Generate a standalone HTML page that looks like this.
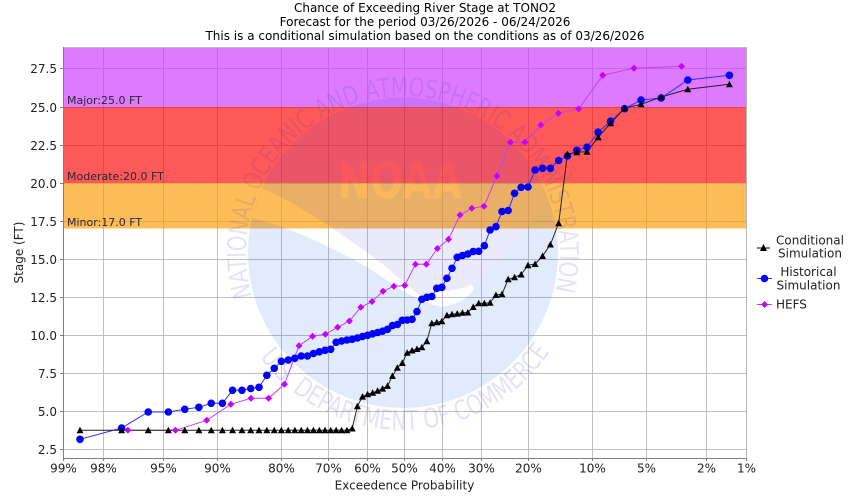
<!DOCTYPE html>
<html><head><meta charset="utf-8">
<style>
html,body{margin:0;padding:0;background:#fff;}
svg{display:block;}
text{font-family:"DejaVu Sans","Liberation Sans",sans-serif;}
</style></head><body>
<svg id="c" width="850" height="500" viewBox="0 0 850 500" xmlns="http://www.w3.org/2000/svg">
<defs>
<mask id="darkMask"><rect x="0" y="0" width="850" height="500" fill="#fff"/><text x="400" y="198" font-size="50" font-weight="bold" text-anchor="middle" textLength="124" lengthAdjust="spacingAndGlyphs" fill="#555">NOAA</text></mask>
<mask id="lightMask"><circle cx="403" cy="253" r="155" fill="#fff"/>
<path d="M 262,188 C 300,205 340,232 380,262 C 400,278 412,290 420,295 C 440,292 460,290 472,285 C 500,262 525,232 548,198 A 155 155 0 0 0 262,188 Z" fill="#000"/>
<path d="M 252,218 C 285,226 330,245 375,272 C 400,290 420,302 442,307 C 458,304 468,298 474,289 L 472,285 C 460,290 440,292 420,295 C 412,290 400,278 380,262 C 340,232 300,205 262,188 Z" fill="#000"/>
</mask>
<path id="arcTop" d="M 252.1,296.3 A 157 157 0 1 1 553.9,296.3" fill="none"/>
<path id="arcBot" d="M 259.8,357 A 177 177 0 0 0 548,354.5" fill="none"/>
</defs>

<rect x="0" y="0" width="850" height="500" fill="#fff"/>

<!-- title -->
<g font-size="12" fill="#000" text-anchor="middle">
<text x="425" y="12">Chance of Exceeding River Stage at TONO2</text>
<text x="425" y="26">Forecast for the period 03/26/2026 - 06/24/2026</text>
<text x="425" y="40">This is a conditional simulation based on the conditions as of 03/26/2026</text>
</g>

<!-- gridlines -->
<g stroke="#c0c0c0" stroke-width="1" shape-rendering="crispEdges">
<line x1="63" y1="68.5" x2="746" y2="68.5"/>
<line x1="63" y1="107.5" x2="746" y2="107.5"/>
<line x1="63" y1="145.5" x2="746" y2="145.5"/>
<line x1="63" y1="183.5" x2="746" y2="183.5"/>
<line x1="63" y1="221.5" x2="746" y2="221.5"/>
<line x1="63" y1="259.5" x2="746" y2="259.5"/>
<line x1="63" y1="297.5" x2="746" y2="297.5"/>
<line x1="63" y1="335.5" x2="746" y2="335.5"/>
<line x1="63" y1="373.5" x2="746" y2="373.5"/>
<line x1="63" y1="411.5" x2="746" y2="411.5"/>
<line x1="63" y1="449.5" x2="746" y2="449.5"/>
<line x1="103.5" y1="47" x2="103.5" y2="458"/>
<line x1="163.5" y1="47" x2="163.5" y2="458"/>
<line x1="217.5" y1="47" x2="217.5" y2="458"/>
<line x1="281.5" y1="47" x2="281.5" y2="458"/>
<line x1="328.5" y1="47" x2="328.5" y2="458"/>
<line x1="367.5" y1="47" x2="367.5" y2="458"/>
<line x1="404.5" y1="47" x2="404.5" y2="458"/>
<line x1="442.5" y1="47" x2="442.5" y2="458"/>
<line x1="481.5" y1="47" x2="481.5" y2="458"/>
<line x1="528.5" y1="47" x2="528.5" y2="458"/>
<line x1="592.5" y1="47" x2="592.5" y2="458"/>
<line x1="646.5" y1="47" x2="646.5" y2="458"/>
<line x1="706.5" y1="47" x2="706.5" y2="458"/>
</g>

<!-- flood bands -->
<g shape-rendering="crispEdges">
<rect x="63" y="47" width="683" height="60" fill="#CC33FF" fill-opacity="0.65"/>
<rect x="63" y="107" width="683" height="76" fill="#FF0000" fill-opacity="0.65"/>
<rect x="63" y="183" width="683" height="45.5" fill="#FF9900" fill-opacity="0.65"/>
</g>

<!-- watermark -->
<g>
<circle cx="403" cy="253" r="155" fill="rgb(0,83,230)" fill-opacity="0.115" mask="url(#lightMask)"/>
<path d="M 262,188 C 300,205 340,232 380,262 C 400,278 412,290 420,295 C 440,292 460,290 472,285 C 500,262 525,232 548,198 A 155 155 0 0 0 262,188 Z" fill="rgb(62,62,222)" fill-opacity="0.11" mask="url(#darkMask)"/>
<text font-size="26" fill="rgb(60,60,200)" fill-opacity="0.14"><textPath href="#arcTop" textLength="575" lengthAdjust="spacingAndGlyphs">NATIONAL OCEANIC AND ATMOSPHERIC ADMINISTRATION</textPath></text>
<text font-size="27" fill="rgb(60,60,200)" fill-opacity="0.14"><textPath href="#arcBot" textLength="340" lengthAdjust="spacingAndGlyphs">U.S. DEPARTMENT OF COMMERCE</textPath></text>
</g>

<!-- band labels -->
<g font-size="11" fill="#282838">
<text x="67" y="104">Major:25.0 FT</text>
<text x="67" y="180">Moderate:20.0 FT</text>
<text x="67" y="226">Minor:17.0 FT</text>
</g>

<!-- plot outline / axes -->
<g shape-rendering="crispEdges">
<line x1="63" y1="47.5" x2="746" y2="47.5" stroke="#b8b8b8"/>
<line x1="746.5" y1="47" x2="746.5" y2="458" stroke="#b8b8b8"/>
<line x1="63.5" y1="47" x2="63.5" y2="459" stroke="#808080"/>
<line x1="63" y1="458.5" x2="747" y2="458.5" stroke="#808080"/>
</g>
<g stroke="#808080" shape-rendering="crispEdges">
<line x1="60" y1="68.5" x2="63" y2="68.5"/>
<line x1="60" y1="107.5" x2="63" y2="107.5"/>
<line x1="60" y1="145.5" x2="63" y2="145.5"/>
<line x1="60" y1="183.5" x2="63" y2="183.5"/>
<line x1="60" y1="221.5" x2="63" y2="221.5"/>
<line x1="60" y1="259.5" x2="63" y2="259.5"/>
<line x1="60" y1="297.5" x2="63" y2="297.5"/>
<line x1="60" y1="335.5" x2="63" y2="335.5"/>
<line x1="60" y1="373.5" x2="63" y2="373.5"/>
<line x1="60" y1="411.5" x2="63" y2="411.5"/>
<line x1="60" y1="449.5" x2="63" y2="449.5"/>
<line x1="63.5" y1="458" x2="63.5" y2="461"/>
<line x1="103.5" y1="458" x2="103.5" y2="461"/>
<line x1="163.5" y1="458" x2="163.5" y2="461"/>
<line x1="217.5" y1="458" x2="217.5" y2="461"/>
<line x1="281.5" y1="458" x2="281.5" y2="461"/>
<line x1="328.5" y1="458" x2="328.5" y2="461"/>
<line x1="367.5" y1="458" x2="367.5" y2="461"/>
<line x1="404.5" y1="458" x2="404.5" y2="461"/>
<line x1="442.5" y1="458" x2="442.5" y2="461"/>
<line x1="481.5" y1="458" x2="481.5" y2="461"/>
<line x1="528.5" y1="458" x2="528.5" y2="461"/>
<line x1="592.5" y1="458" x2="592.5" y2="461"/>
<line x1="646.5" y1="458" x2="646.5" y2="461"/>
<line x1="706.5" y1="458" x2="706.5" y2="461"/>
<line x1="746.5" y1="458" x2="746.5" y2="461"/>
</g>

<!-- y tick labels -->
<g font-size="12" fill="#222" text-anchor="end">
<text x="57" y="73">27.5</text>
<text x="57" y="112">25.0</text>
<text x="57" y="150">22.5</text>
<text x="57" y="188">20.0</text>
<text x="57" y="226">17.5</text>
<text x="57" y="264">15.0</text>
<text x="57" y="302">12.5</text>
<text x="57" y="340">10.0</text>
<text x="57" y="378">7.5</text>
<text x="57" y="416">5.0</text>
<text x="57" y="454">2.5</text>
</g>
<!-- x tick labels -->
<g font-size="12" fill="#222" text-anchor="middle">
<text x="63.5" y="472.5">99%</text>
<text x="103.5" y="472.5">98%</text>
<text x="163.5" y="472.5">95%</text>
<text x="217.5" y="472.5">90%</text>
<text x="281.5" y="472.5">80%</text>
<text x="328.5" y="472.5">70%</text>
<text x="367.5" y="472.5">60%</text>
<text x="404.5" y="472.5">50%</text>
<text x="442.5" y="472.5">40%</text>
<text x="481.5" y="472.5">30%</text>
<text x="528.5" y="472.5">20%</text>
<text x="592.5" y="472.5">10%</text>
<text x="646.5" y="472.5">5%</text>
<text x="706.5" y="472.5">2%</text>
<text x="746.5" y="472.5">1%</text>
</g>
<text x="404.5" y="489.5" font-size="12" fill="#222" text-anchor="middle">Exceedence Probability</text>
<text transform="translate(23,252.5) rotate(-90)" font-size="12" fill="#222" text-anchor="middle">Stage (FT)</text>

<!-- series container -->
<g id="lines"></g>
<g id="marks"></g>

<!-- legend -->
<g>
<line x1="757" y1="248" x2="770" y2="248" stroke="#000" stroke-width="1"/>
<polygon points="763.5,244 767,251 760,251" fill="#000"/>
<line x1="757" y1="278.5" x2="772" y2="278.5" stroke="#3030ff" stroke-width="1"/>
<circle cx="764.5" cy="278.5" r="3.8" fill="#0000ff"/>
<line x1="757" y1="304.5" x2="772" y2="304.5" stroke="#c040ff" stroke-width="1"/>
<polygon points="764.5,301 768,304.5 764.5,308 761,304.5" fill="#c800ff"/>
<g font-size="12" fill="#222" text-anchor="middle">
<text x="810" y="244.3">Conditional</text>
<text x="810" y="257.7">Simulation</text>
<text x="808.5" y="276">Historical</text>
<text x="808.5" y="289.5">Simulation</text>
</g>
<text x="776" y="308.3" font-size="12" fill="#222">HEFS</text>
</g>
</svg>
<script>
(function(){
function ninv(p){
 var a=[-3.969683028665376e+01,2.209460984245205e+02,-2.759285104469687e+02,1.383577518672690e+02,-3.066479806614716e+01,2.506628277459239e+00];
 var b=[-5.447609879822406e+01,1.615858368580409e+02,-1.556989798598866e+02,6.680131188771972e+01,-1.328068155288572e+01];
 var c=[-7.784894002430293e-03,-3.223964580411365e-01,-2.400758277161838e+00,-2.549732539343734e+00,4.374664141464968e+00,2.938163982698783e+00];
 var d=[7.784695709041462e-03,3.224671290700398e-01,2.445134137142996e+00,3.754408661907416e+00];
 var pl=0.02425,ph=1-pl,q,r;
 if(p<pl){q=Math.sqrt(-2*Math.log(p));return (((((c[0]*q+c[1])*q+c[2])*q+c[3])*q+c[4])*q+c[5])/((((d[0]*q+d[1])*q+d[2])*q+d[3])*q+1);}
 if(p>ph){q=Math.sqrt(-2*Math.log(1-p));return -(((((c[0]*q+c[1])*q+c[2])*q+c[3])*q+c[4])*q+c[5])/((((d[0]*q+d[1])*q+d[2])*q+d[3])*q+1);}
 q=p-0.5;r=q*q;return (((((a[0]*r+a[1])*r+a[2])*r+a[3])*r+a[4])*r+a[5])*q/(((((b[0]*r+b[1])*r+b[2])*r+b[3])*r+b[4])*r+1);
}
function X(k,N){return 404.7+146.5*ninv(k/(N+1));}
var cond=[430.3,430.3,430.3,430.3,430.3,430.3,430.3,430.3,430.3,430.3,430.3,430.3,430.3,430.3,430.3,430.3,430.3,430.3,430.3,430.3,430.3,430.3,430.3,430.3,430.3,430.3,
428.5,406.3,396.6,394.3,392.8,390.8,388.6,385.9,376,367.7,363,352.7,350.5,349,347.2,341.3,323.3,322.3,321.3,315.2,314.2,313.6,312.7,312.5,307,303.3,303.3,302.7,295,294.3,279.3,277.3,274.5,265.3,264,256,244.5,223.3,154.3,152.3,151.7,137.3,123.3,108.3,104.3,97,89.3,84.3];
var hist=[439.3,428,412,412,409.3,407.3,403.3,403.3,390.3,390.3,388.5,387.3,375.3,368.3,361.3,360,358.3,356,356,353.5,351.8,350.3,349.3,342.3,341,340,339.3,338,336.5,335.3,333.8,332.5,331.2,329.3,325.5,324.5,320.3,320,319.3,311.6,299.3,297.3,296.5,288.3,287.3,278.3,268.3,257.3,255.5,254,251.5,251.3,245.7,230,226.7,211.5,210.5,193.3,187.3,187,170,168.3,168.3,160.5,156,150.3,147.2,132.2,121.2,108.7,100,98,80,75.3];
var hefs=[430.3,430.3,420.3,404.3,398.3,398.3,384.3,345.7,336.3,334.2,327.3,321,307.3,301.5,291.3,286.2,285.5,264.3,264.3,248.5,239.3,215,208.3,206.3,176,142.3,142.3,125,113.3,109,75.3,68.3,66.3];
var NS="http://www.w3.org/2000/svg";
var L=document.getElementById("lines"),M=document.getElementById("marks");
function pts(arr){var N=arr.length,o=[];for(var i=0;i<N;i++){o.push([X(i+1,N),arr[i]]);}return o;}
function line(p,col){var e=document.createElementNS(NS,"polyline");e.setAttribute("points",p.map(function(q){return q[0].toFixed(2)+","+q[1];}).join(" "));e.setAttribute("fill","none");e.setAttribute("stroke",col);e.setAttribute("stroke-width","1");L.appendChild(e);}
var pH=pts(hefs),pB=pts(hist),pC=pts(cond);
line(pH,"#c040ff");line(pB,"#3030ff");line(pC,"#222");
pH.forEach(function(q){var e=document.createElementNS(NS,"polygon");var x=q[0],y=q[1],s=3.5;e.setAttribute("points",x+","+(y-s)+" "+(x+s)+","+y+" "+x+","+(y+s)+" "+(x-s)+","+y);e.setAttribute("fill","#c800ff");M.appendChild(e);});
pB.forEach(function(q){var e=document.createElementNS(NS,"circle");e.setAttribute("cx",q[0]);e.setAttribute("cy",q[1]);e.setAttribute("r","3.8");e.setAttribute("fill","#0000ff");M.appendChild(e);});
pC.forEach(function(q){var e=document.createElementNS(NS,"polygon");var x=q[0],y=q[1],s=3.5;e.setAttribute("points",x+","+(y-s)+" "+(x+s)+","+(y+s-0.5)+" "+(x-s)+","+(y+s-0.5));e.setAttribute("fill","#000");M.appendChild(e);});
})();
</script>
</body></html>
